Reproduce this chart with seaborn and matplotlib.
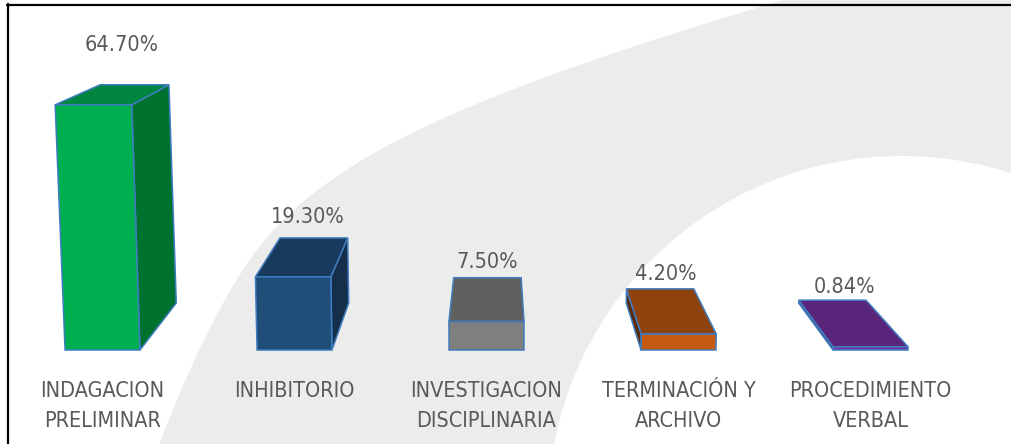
import numpy as np
import pandas as pd
import matplotlib
matplotlib.use("Agg")
import matplotlib.pyplot as plt
import seaborn as sns
from matplotlib.patches import Polygon, Circle, PathPatch
from matplotlib.path import Path
from matplotlib.transforms import Affine2D
from matplotlib.lines import Line2D
from matplotlib import font_manager

# ---------------- data ----------------
categories = ["INDAGACION\nPRELIMINAR", "INHIBITORIO", "INVESTIGACION\nDISCIPLINARIA",
              "TERMINACIÓN Y\nARCHIVO", "PROCEDIMIENTO\nVERBAL"]
values = [64.70, 19.30, 7.50, 4.20, 0.84]
value_labels = ["64.70%", "19.30%", "7.50%", "4.20%", "0.84%"]
front_colors = ["#00B050", "#1F4E79", "#7F7F7F", "#C55A11", "#7030A0"]
top_colors = ["#00863E", "#183A5C", "#606060", "#8E420D", "#58257A"]
side_colors = ["#00722F", "#152F4B", "#4F4F4F", "#5A2A08", "#3E1A57"]

# ---------------- figure ----------------
W, H = 1011, 444
sns.set_style("white")
names = {f.name for f in font_manager.fontManager.ttflist}
if "Liberation Sans Narrow" in names:
    FONT = dict(family="Liberation Sans Narrow", size=17.5)
else:
    FONT = dict(family="DejaVu Sans", stretch="condensed", size=15.5)
TEXT_COLOR = "#595959"

fig = plt.figure(figsize=(W / 100, H / 100), dpi=100)
fig.patch.set_facecolor("white")
ax = fig.add_axes([0, 0, 1, 1])
ax.set_axis_off()

df = pd.DataFrame({"cat": categories, "val": values})
sns.barplot(data=df, x="cat", y="val", hue="cat", palette=front_colors,
            width=0.39, legend=False, ax=ax, saturation=1)
bars = sorted(list(ax.patches), key=lambda p: p.get_x())

# ---------------- background swoosh (decorative, image px) ----------------
px = Affine2D().scale(1, -1).translate(0, H)
verts = [(800, -5), (464, 94), (328, 157), (256, 251),
         (224, 293), (181, 381), (150, 470),
         (1030, 470), (1030, -5), (800, -5)]
codes = [Path.MOVETO, Path.CURVE4, Path.CURVE4, Path.CURVE4,
         Path.CURVE4, Path.CURVE4, Path.CURVE4,
         Path.LINETO, Path.LINETO, Path.CLOSEPOLY]
ax.add_patch(PathPatch(Path(verts, codes), transform=px, facecolor="#ECECEC",
                       edgecolor="none", zorder=0))
ax.add_patch(Circle((902, 510), 354, transform=px, facecolor="white",
                    edgecolor="none", zorder=0.5))
fig.add_artist(Line2D([7, W], [H - 5, H - 5], transform=None, color="black", lw=1.6))
fig.add_artist(Line2D([8, 8], [H - 4, 0], transform=None, color="black", lw=1.6))

# axis limits (category units / percent)
ax.set_xlim(-0.534, 4.732)
ax.set_ylim(-24.8, 92.35)

# ---------------- perspective projection ----------------
XV, YV = 2.05, 112.7     # vanishing point (data units)
TX, TY = 0.102, 0.110    # depth fraction
K = 3.56e-4              # vertical convergence


def front(x, y):
    return (x + K * (x - XV) * y, y)


def back(x, y):
    fx, fy = front(x, y)
    return (fx + TX * (XV - fx), fy + TY * (YV - fy))


EDGE = "#3F7CC0"
LW = 1.1
for i, p in enumerate(bars):
    x0 = p.get_x()
    x1 = x0 + p.get_width()
    h = p.get_height()
    p.set_visible(False)
    FL, FR, FTL, FTR = front(x0, 0), front(x1, 0), front(x0, h), front(x1, h)
    BL, BR, BTL, BTR = back(x0, 0), back(x1, 0), back(x0, h), back(x1, h)
    kw = dict(edgecolor=EDGE, lw=LW, joinstyle="miter", zorder=3 + i)
    if x1 < XV:
        ax.add_patch(Polygon([FR, FTR, BTR, BR], facecolor=side_colors[i], **kw))
    if x0 > XV:
        ax.add_patch(Polygon([FL, FTL, BTL, BL], facecolor=side_colors[i], **kw))
    ax.add_patch(Polygon([FTL, FTR, BTR, BTL], facecolor=top_colors[i], **kw))
    ax.add_patch(Polygon([FL, FR, FTR, FTL], facecolor=front_colors[i], **kw))

    xc = (x0 + x1) / 2
    xt = front(xc, h)[0]
    ax.text(xt + 0.07 * (XV - xt), h + 15.8, value_labels[i], ha="center",
            va="center", color=TEXT_COLOR, zorder=10, **FONT)
    for j, line in enumerate(categories[i].split("\n")):
        ax.text(xc, -12.4 - 7.9 * j, line, ha="center", va="baseline",
                color=TEXT_COLOR, zorder=10, **FONT)

fig.savefig("out.png", dpi=100, facecolor="white")
